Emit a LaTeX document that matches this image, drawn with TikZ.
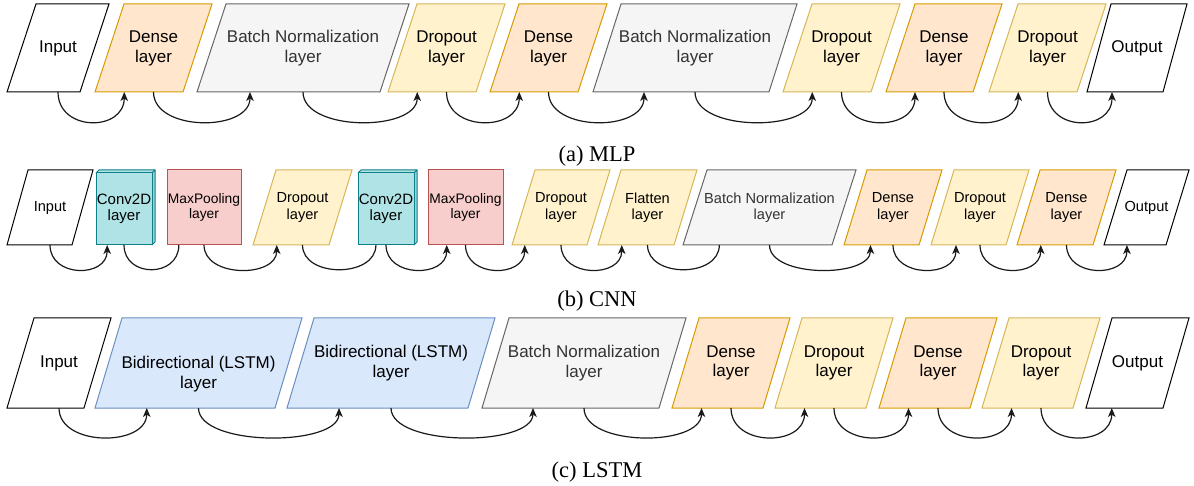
\documentclass[tikz,border=0pt]{standalone}
\usepackage{fontspec}
\setmainfont{Liberation Sans}
\newfontfamily\capfont{Liberation Serif}
\usetikzlibrary{arrows.meta,calc}

% draw.io-like palette
\definecolor{denseF}{HTML}{FFE6CC}\definecolor{denseD}{HTML}{D79B00}
\definecolor{dropF}{HTML}{FFF2CC}\definecolor{dropD}{HTML}{D6B656}
\definecolor{bnF}{HTML}{F5F5F5}\definecolor{bnD}{HTML}{666666}\definecolor{bnT}{HTML}{333333}
\definecolor{lstmF}{HTML}{DAE8FC}\definecolor{lstmD}{HTML}{6C8EBF}
\definecolor{poolF}{HTML}{F8CECC}\definecolor{poolD}{HTML}{B85450}
\definecolor{convF}{HTML}{B0E3E6}\definecolor{convD}{HTML}{0E8088}
\definecolor{wire}{HTML}{1A1A1A}

\tikzset{
  io/.style={fill=white,draw=black,line width=1pt},
  dense/.style={fill=denseF,draw=denseD,line width=1pt},
  drop/.style={fill=dropF,draw=dropD,line width=1pt},
  bn/.style={fill=bnF,draw=bnD,line width=1pt},
  lstm/.style={fill=lstmF,draw=lstmD,line width=1pt},
  pool/.style={fill=poolF,draw=poolD,line width=1pt},
  conv/.style={fill=convF,draw=convD,line width=1pt,line join=round},
  lbl/.style={inner sep=0pt,outer sep=0pt,align=center,text=black},
  conn/.style={draw=wire,line width=1.2pt,-{Stealth[length=9pt,width=7.5pt,inset=2.5pt]}},
  captxt/.style={inner sep=0pt,font=\capfont\fontsize{22.5}{26}\selectfont,text=black}
}

% parallelogram layer: [node opts]{name}{look}{x left}{x right}{y top}{y bottom}{slant}{text}
\newcommand\plgram[9][]{%
  \path[#3] (#4,#7) -- ({#5-#8},#7) -- (#5,#6) -- ({#4+#8},#6) -- cycle;
  \node[lbl,minimum width={#5-#4},minimum height={#7-#6},#1] (#2)
    at ({(#4+#5)/2},{(#6+#7)/2}) {#9};}
% plain rectangle layer
\newcommand\rectbox[8][]{%
  \path[#3] (#4,#6) rectangle (#5,#7);
  \node[lbl,minimum width={#5-#4},minimum height={#7-#6},#1] (#2)
    at ({(#4+#5)/2},{(#6+#7)/2}) {#8};}
% cube layer, #8 is the depth of the box
\newcommand\cubebox[9][]{%
  \path[#3] (#4,{#6+#8}) -- ({#4+#8},#6) -- (#5,#6) -- ({#5-#8},{#6+#8}) -- cycle;
  \path[#3,fill=convF!85!convD] ({#5-#8},{#6+#8}) -- (#5,#6) -- (#5,{#7-#8}) -- ({#5-#8},#7) -- cycle;
  \path[#3] (#4,{#6+#8}) rectangle ({#5-#8},#7);
  \node[lbl,minimum width={#5-#4-#8},minimum height={#7-#6-#8},#1] (#2)
    at ({(#4+#5-#8)/2},{(#6+#8+#7)/2}) {#9};}
% curved connector below the row, ending at a fraction of the target's bottom edge
\newcommand\link[4][]{%
  \draw[conn,#1] (#2.south) .. controls +(0,\dep) and +(0,\dep) ..
    ($(#3.south west)!#4!(#3.south east)$);}
% text drawn lower without changing the node size
\newcommand\lowered[1]{\raisebox{-11pt}[\height][\depth]{#1}}

\begin{document}
\begin{tikzpicture}[x=1pt,y=-1pt]
\useasboundingbox (0,0) rectangle (1194,486);

% ---------- MLP ----------
\begin{scope}[lbl/.append style={font=\fontsize{17}{20}\selectfont}]
\def\dep{40}
\plgram{aIn}{io}{7}{109}{4}{92}{29}{Input}
\plgram{aD1}{dense}{95}{212}{4}{92}{29}{Dense\\layer}
\plgram[text=bnT]{aBN1}{bn}{197}{409}{4}{92}{29}{Batch Normalization\\layer}
\plgram{aDo1}{drop}{388}{505}{4}{92}{29}{Dropout\\layer}
\plgram{aD2}{dense}{490}{607}{4}{92}{29}{Dense\\layer}
\plgram[text=bnT]{aBN2}{bn}{593}{797}{4}{92}{28}{Batch Normalization\\layer}
\plgram{aDo2}{drop}{783}{900}{4}{92}{29}{Dropout\\layer}
\plgram{aD3}{dense}{886}{1002}{4}{92}{29}{Dense\\layer}
\plgram{aDo3}{drop}{989}{1106}{4}{92}{29}{Dropout\\layer}
\plgram{aOut}{io}{1087}{1187}{4}{92}{24}{Output}
\link{aIn}{aD1}{0.25}
\link{aD1}{aBN1}{0.25}
\link{aBN1}{aDo1}{0.25}
\link{aDo1}{aD2}{0.25}
\link{aD2}{aBN2}{0.25}
\link{aBN2}{aDo2}{0.25}
\link{aDo2}{aD3}{0.25}
\link{aD3}{aDo3}{0.25}
\link{aDo3}{aOut}{0.25}
\end{scope}
\node[captxt,anchor=base] (capA) at (597,162) {(a) MLP};

% ---------- CNN ----------
\begin{scope}[lbl/.append style={font=\fontsize{14.6}{16.5}\selectfont}]
\def\dep{33}
\plgram{bIn}{io}{7}{93}{170}{245}{21}{Input}
\cubebox[font=\fontsize{15}{16.5}\selectfont]{bC1}{conv}{96}{155}{170}{245}{3}{Conv2D\\layer}
\rectbox[font=\fontsize{13.8}{15.5}\selectfont]{bM1}{pool}{167}{241}{170}{245}{MaxPooling\\layer}
\plgram{bDo1}{drop}{253}{352}{170}{245}{23}{Dropout\\layer}
\cubebox[font=\fontsize{15}{16.5}\selectfont]{bC2}{conv}{358}{417}{170}{245}{3}{Conv2D\\layer}
\rectbox[font=\fontsize{13.8}{15.5}\selectfont]{bM2}{pool}{428}{503}{170}{245}{MaxPooling\\layer}
\plgram{bDo2}{drop}{512}{610}{170}{245}{23}{Dropout\\layer}
\plgram{bFl}{drop}{598}{697}{170}{245}{23}{Flatten\\layer}
\plgram[text=bnT]{bBN}{bn}{683}{856}{170}{245}{24}{Batch Normalization\\layer}
\plgram{bD1}{dense}{844}{942}{170}{245}{23}{Dense\\layer}
\plgram{bDo3}{drop}{931}{1029}{170}{245}{23}{Dropout\\layer}
\plgram{bD2}{dense}{1017}{1116}{170}{245}{23}{Dense\\layer}
\plgram{bOut}{io}{1104}{1189}{170}{245}{23}{Output}
\link{bIn}{bC1}{0.2}
\link[-]{bC1}{bM1}{0.16}
\link{bM1}{bDo1}{0.24}
\link[-]{bDo1}{bC2}{0.32}
\link{bC2}{bM2}{0.25}
\link{bM2}{bDo2}{0.13}
\link{bDo2}{bFl}{0.24}
\link[-]{bFl}{bBN}{0.21}
\link{bBN}{bD1}{0.27}
\link{bD1}{bDo3}{0.255}
\link{bDo3}{bD2}{0.24}
\link{bD2}{bOut}{0.27}
\end{scope}
\node[captxt,anchor=base] (capB) at (597,306) {(b) CNN};

% ---------- LSTM ----------
\begin{scope}[lbl/.append style={font=\fontsize{17}{19.5}\selectfont}]
\def\dep{39}
\plgram{cIn}{io}{7}{111}{318}{408}{27}{Input}
\plgram{cB1}{lstm}{95}{302}{318}{408}{27}{\lowered{Bidirectional (LSTM)}\\\lowered{layer}}
\plgram{cB2}{lstm}{287}{495}{318}{408}{27}{Bidirectional (LSTM)\\layer}
\plgram[text=bnT]{cBN}{bn}{482}{686}{318}{408}{27}{Batch Normalization\\layer}
\plgram{cD1}{dense}{672}{790}{318}{408}{27}{Dense\\layer}
\plgram{cDo1}{drop}{775}{893}{318}{408}{27}{Dropout\\layer}
\plgram{cD2}{dense}{879}{997}{318}{408}{27}{Dense\\layer}
\plgram{cDo2}{drop}{982}{1100}{318}{408}{27}{Dropout\\layer}
\plgram{cOut}{io}{1086}{1189}{318}{408}{26}{Output}
\link{cIn}{cB1}{0.25}
\link{cB1}{cB2}{0.25}
\link{cB2}{cBN}{0.25}
\link{cBN}{cD1}{0.25}
\link{cD1}{cDo1}{0.25}
\link{cDo1}{cD2}{0.25}
\link{cD2}{cDo2}{0.25}
\link{cDo2}{cOut}{0.25}
\end{scope}
\node[captxt,anchor=base] (capC) at (597,477) {(c) LSTM};
\end{tikzpicture}
\end{document}
